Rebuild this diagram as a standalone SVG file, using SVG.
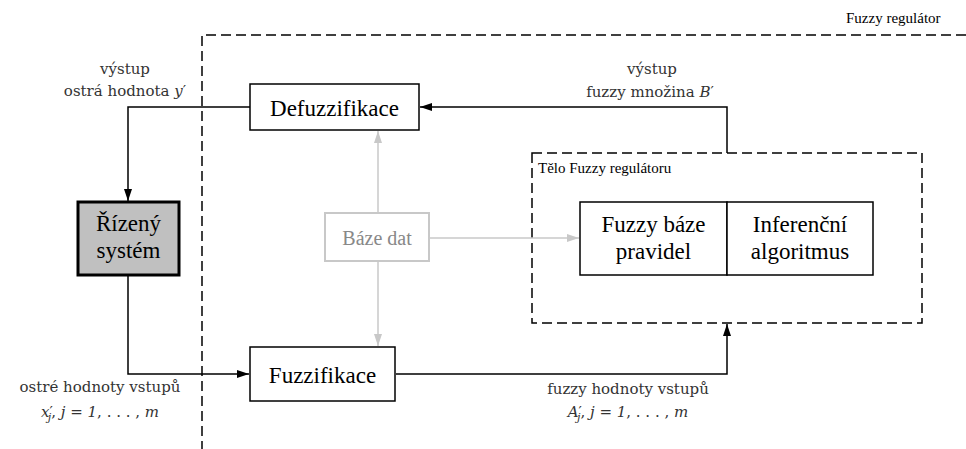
<svg xmlns="http://www.w3.org/2000/svg" width="966" height="449" viewBox="0 0 966 449">
<style>
.box{fill:#fff;stroke:#000;stroke-width:1.5}
.gbox{fill:#fff;stroke:#c8c8c8;stroke-width:2}
.dash{fill:none;stroke:#000;stroke-width:1.5;stroke-dasharray:10 5}
.ln{fill:none;stroke:#000;stroke-width:1.5}
.gln{fill:none;stroke:#c8c8c8;stroke-width:1.5}
text{font-family:'Liberation Serif','Times New Roman','DejaVu Serif',serif}
.tb{font-size:23px;fill:#000;text-anchor:middle}
.ts{font-size:15px;fill:#000}
.lab{font-family:'DejaVu Serif','Liberation Serif',serif;font-size:15px;fill:#333;text-anchor:middle}
.it{font-style:italic}
</style>
<defs>
<marker id="ah" markerWidth="12" markerHeight="8" refX="12" refY="4" orient="auto" markerUnits="userSpaceOnUse"><path d="M0,0 L12,4 L0,8 Z" fill="#000"/></marker>
<marker id="gh" markerWidth="12" markerHeight="8" refX="12" refY="4" orient="auto" markerUnits="userSpaceOnUse"><path d="M0,0 L12,4 L0,8 Z" fill="#c8c8c8"/></marker>
</defs>
<g id="fuzzy-regulator">
<path class="dash" d="M966,35 H202 V449"/>
<text class="ts" x="846" y="23">Fuzzy regulátor</text>
</g>
<g id="telo">
<rect class="dash" x="532" y="153" width="390" height="170"/>
<text class="ts" x="538" y="173">Tělo Fuzzy regulátoru</text>
</g>
<g id="connectors">
<path class="ln" d="M727,153 V107 H420" marker-end="url(#ah)"/>
<path class="ln" d="M250,107 H128 V201" marker-end="url(#ah)"/>
<path class="ln" d="M128,276 V374 H249" marker-end="url(#ah)"/>
<path class="ln" d="M396,374 H727 V324" marker-end="url(#ah)"/>
<path class="gln" d="M378,213 V131" marker-end="url(#gh)"/>
<path class="gln" d="M378,261 V346" marker-end="url(#gh)"/>
<path class="gln" d="M429,238 H579" marker-end="url(#gh)"/>
</g>
<g id="defuzzifikace">
<rect class="box" x="250" y="84" width="169" height="46"/>
<text class="tb" x="334.5" y="116">Defuzzifikace</text>
</g>
<g id="fuzzifikace">
<rect class="box" x="250" y="347" width="145" height="54"/>
<text class="tb" x="322.5" y="383">Fuzzifikace</text>
</g>
<g id="rizeny-system">
<rect x="78" y="202" width="101" height="73" fill="#c0c0c0" stroke="#000" stroke-width="3"/>
<text class="tb" x="128.5" y="231">Řízený</text>
<text class="tb" x="128.5" y="258">systém</text>
</g>
<g id="baze-dat">
<rect class="gbox" x="325" y="213" width="104" height="48"/>
<text class="tb" x="377" y="245" style="fill:#888;font-size:20px">Báze dat</text>
</g>
<g id="pravidla">
<rect class="box" x="580" y="202" width="147" height="73"/>
<rect class="box" x="727" y="202" width="146" height="73"/>
<text class="tb" x="653.5" y="232">Fuzzy báze</text>
<text class="tb" x="653.5" y="259">pravidel</text>
<text class="tb" x="800" y="232">Inferenční</text>
<text class="tb" x="800" y="259">algoritmus</text>
</g>
<g id="labels">
<text class="lab" x="125" y="74">výstup</text>
<text class="lab" x="125" y="96">ostrá hodnota <tspan class="it">y</tspan>′</text>
<text class="lab" x="652" y="74">výstup</text>
<text class="lab" x="650" y="97">fuzzy množina <tspan class="it">B</tspan>′</text>
<text class="lab" x="100" y="392">ostré hodnoty vstupů</text>
<text class="lab" x="100" y="417"><tspan class="it">x</tspan>′<tspan class="it" font-size="11" dy="4" dx="-5">j</tspan><tspan dy="-4">, </tspan><tspan class="it">j</tspan> = <tspan class="it">1</tspan>, . . . , <tspan class="it">m</tspan></text>
<text class="lab" x="628" y="394">fuzzy hodnoty vstupů</text>
<text class="lab" x="628" y="417"><tspan class="it">A</tspan>′<tspan class="it" font-size="11" dy="4" dx="-5">j</tspan><tspan dy="-4">, </tspan><tspan class="it">j</tspan> = <tspan class="it">1</tspan>, . . . , <tspan class="it">m</tspan></text>
</g>
</svg>
